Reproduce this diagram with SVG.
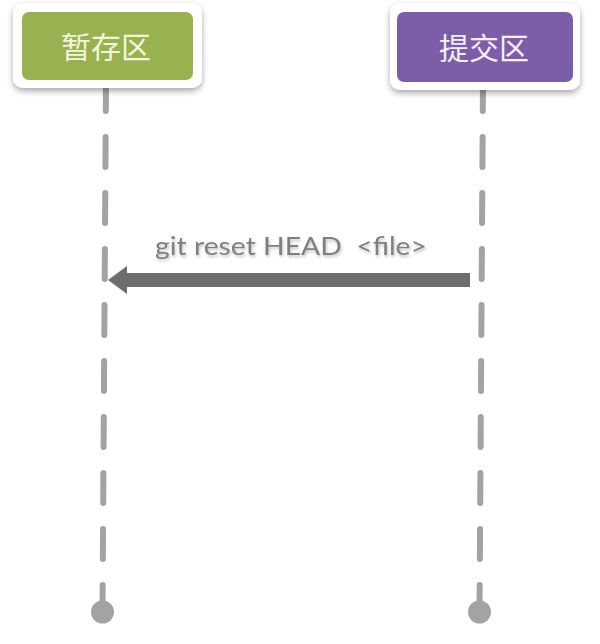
<svg xmlns="http://www.w3.org/2000/svg" width="600" height="644" viewBox="0 0 600 644">
  <defs>
    <filter id="shadow" x="-20%" y="-30%" width="140%" height="170%">
      <feGaussianBlur in="SourceAlpha" stdDeviation="3"/>
      <feOffset dx="0" dy="3" result="b"/>
      <feComponentTransfer><feFuncA type="linear" slope="0.35"/></feComponentTransfer>
      <feMerge><feMergeNode/><feMergeNode in="SourceGraphic"/></feMerge>
    </filter>
    <filter id="tshadow" x="-10%" y="-30%" width="120%" height="160%">
      <feGaussianBlur in="SourceAlpha" stdDeviation="1.5"/>
      <feOffset dx="1" dy="2"/>
      <feComponentTransfer><feFuncA type="linear" slope="0.25"/></feComponentTransfer>
      <feMerge><feMergeNode/><feMergeNode in="SourceGraphic"/></feMerge>
    </filter>
    <style>
      .life { stroke: #a3a3a3; stroke-width: 6; stroke-linecap: round; stroke-dasharray: 30 26; fill: none; }
      .dot { fill: #a3a3a3; }
      .frame { fill: #ffffff; filter: url(#shadow); }
      .label { font-family: "Noto Sans CJK SC", "Noto Sans", sans-serif; font-size: 30px; text-anchor: middle; }
      .msg { font-family: Lato, "Open Sans", "Liberation Sans", sans-serif; font-size: 25px; fill: #7f7f7f; }
    </style>
  </defs>

  <g id="connectors">
    <line class="life" x1="106" y1="81" x2="102.5" y2="612"/>
    <circle class="dot" cx="102.5" cy="612" r="11.5"/>
    <line class="life" x1="483" y1="81" x2="479.5" y2="612"/>
    <circle class="dot" cx="479.5" cy="612" r="11.5"/>
    <g id="msg-reset">
      <line x1="470" y1="280" x2="127" y2="280" stroke="#6e6e6e" stroke-width="14"/>
      <path d="M127 266 L108 280 L127 294 Z" fill="#6e6e6e"/>
      <text class="msg" x="155" y="255" textLength="272" lengthAdjust="spacingAndGlyphs" filter="url(#tshadow)" xml:space="preserve">git reset HEAD  &lt;file&gt;</text>
    </g>
  </g>

  <g id="node-staging">
    <rect class="frame" x="13" y="3" width="189" height="85" rx="10"/>
    <rect x="22" y="12" width="171" height="68" rx="7" fill="#98b24f"/>
    <text class="label" x="106" y="58" fill="#f2f6df">暂存区</text>
  </g>

  <g id="node-commit">
    <rect class="frame" x="390" y="3" width="190" height="87" rx="10"/>
    <rect x="397" y="12" width="176" height="70" rx="7" fill="#7b5da8"/>
    <text class="label" x="484" y="59" fill="#f4f0f8">提交区</text>
  </g>
</svg>
